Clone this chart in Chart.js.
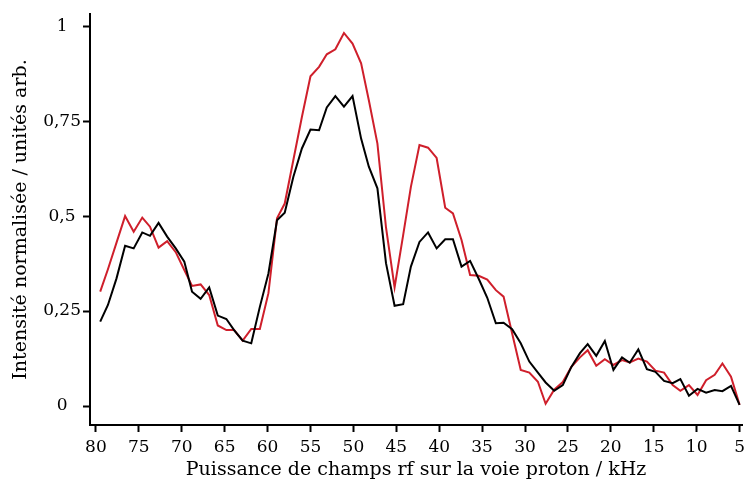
<!DOCTYPE html>
<html>
<head>
<meta charset="utf-8">
<script src="https://cdn.jsdelivr.net/npm/chart.js@4"></script>
<style>
html,body{margin:0;padding:0;background:#fff;}
#wrap{width:750px;height:486px;position:relative;}
</style>
</head>
<body>
<div id="wrap"><canvas id="c"></canvas></div>
<script>
// Fréquence (kHz) of each sample
const khz = [79.5, 78.6, 77.6, 76.6, 75.6, 74.6, 73.7, 72.7, 71.7, 70.7, 69.7, 68.8, 67.8, 66.8, 65.8, 64.8, 63.9, 62.9, 61.9, 60.9,
  59.9, 58.9, 58.0, 57.0, 56.0, 55.0, 54.0, 53.1, 52.1, 51.1, 50.1, 49.1, 48.2, 47.2, 46.2, 45.2, 44.2, 43.3, 42.3, 41.3,
  40.3, 39.3, 38.4, 37.4, 36.4, 35.4, 34.4, 33.4, 32.5, 31.5, 30.5, 29.5, 28.5, 27.6, 26.6, 25.6, 24.6, 23.6, 22.7, 21.7,
  20.7, 19.7, 18.7, 17.8, 16.8, 15.8, 14.8, 13.8, 12.8, 11.9, 10.9, 9.9, 8.9, 7.9, 7.0, 6.0, 5.0];

const blackSeries = [0.222, 0.266, 0.336, 0.422, 0.415, 0.457, 0.448, 0.482, 0.446, 0.415, 0.380, 0.301, 0.282, 0.312, 0.238, 0.229, 0.200, 0.172, 0.165, 0.261,
  0.349, 0.489, 0.509, 0.603, 0.678, 0.728, 0.726, 0.786, 0.816, 0.788, 0.816, 0.704, 0.630, 0.573, 0.376, 0.264, 0.268, 0.367, 0.432, 0.457,
  0.415, 0.439, 0.439, 0.367, 0.382, 0.335, 0.285, 0.218, 0.219, 0.202, 0.165, 0.117, 0.088, 0.062, 0.040, 0.055, 0.103, 0.139, 0.163, 0.132,
  0.171, 0.095, 0.128, 0.114, 0.149, 0.097, 0.090, 0.066, 0.060, 0.071, 0.027, 0.045, 0.035, 0.042, 0.039, 0.053, 0.003];

const redSeries = [0.301, 0.360, 0.430, 0.500, 0.459, 0.496, 0.472, 0.417, 0.434, 0.405, 0.358, 0.316, 0.320, 0.292, 0.212, 0.200, 0.200, 0.172, 0.203, 0.203,
  0.297, 0.494, 0.533, 0.647, 0.761, 0.868, 0.893, 0.926, 0.939, 0.982, 0.954, 0.902, 0.805, 0.691, 0.470, 0.312, 0.450, 0.577, 0.687, 0.680,
  0.653, 0.522, 0.507, 0.437, 0.345, 0.343, 0.333, 0.305, 0.288, 0.191, 0.095, 0.088, 0.064, 0.006, 0.043, 0.063, 0.103, 0.128, 0.147, 0.106,
  0.123, 0.108, 0.121, 0.115, 0.125, 0.117, 0.093, 0.088, 0.055, 0.040, 0.055, 0.029, 0.068, 0.082, 0.112, 0.077, 0.003];

const xTickValues = [80, 75, 70, 65, 60, 55, 50, 45, 40, 35, 30, 25, 20, 15, 10, 5];
const xTickLabels = ['80', '75', '70', '65', '60', '55', '50', '45', '40', '35', '30', '25', '20', '15', '10', '5'];
const yTickValues = [0, 0.25, 0.5, 0.75, 1];
const yTickLabels = ['0', '0,25', '0,5', '0,75', '1'];

const xTitle = 'Puissance de champs rf sur la voie proton / kHz';
const yTitle = 'Intensité normalisée / unités arb.';

const toPts = arr => arr.map((v, i) => ({x: khz[i], y: v}));

const FONT = "'DejaVu Serif', 'Liberation Serif', serif";

new Chart(document.getElementById('c'), {
  type: 'line',
  data: {
    datasets: [
      {label: 'noir', data: toPts(blackSeries), borderColor: '#000000', borderWidth: 2, pointRadius: 0, tension: 0, fill: false},
      {label: 'rouge', data: toPts(redSeries), borderColor: '#cf1f2b', borderWidth: 2, pointRadius: 0, tension: 0, fill: false}
    ]
  },
  options: {
    responsive: true,
    maintainAspectRatio: false,
    animation: false,
    devicePixelRatio: 1,
    layout: {padding: {top: 14, right: 2, bottom: 0, left: 0}},
    plugins: {legend: {display: false}, tooltip: {enabled: false}},
    scales: {
      x: {
        type: 'linear',
        reverse: true,
        min: 4.71,
        max: 80.69,
        afterFit: s => { s.height = 61; },
        afterBuildTicks: s => { s.ticks = xTickValues.map(v => ({value: v})); },
        ticks: {
          autoSkip: false,
          maxRotation: 0,
          color: '#000',
          padding: 5,
          font: {family: FONT, size: 17},
          callback: (v) => xTickLabels[xTickValues.indexOf(v)]
        },
        grid: {drawOnChartArea: false, drawTicks: true, tickLength: 7, tickWidth: 2, tickColor: '#000'},
        border: {display: true, color: '#000', width: 2},
        title: {display: true, text: xTitle, color: '#000', font: {family: FONT, size: 19}, padding: {top: 0, bottom: 5}}
      },
      y: {
        type: 'linear',
        min: -0.05,
        max: 1.032,
        afterFit: s => { s.width = 90; },
        afterBuildTicks: s => { s.ticks = yTickValues.map(v => ({value: v})); },
        ticks: {
          color: '#000',
          padding: 2,
          crossAlign: 'center',
          font: {family: FONT, size: 17},
          callback: (v) => yTickLabels[yTickValues.indexOf(v)]
        },
        grid: {drawOnChartArea: false, drawTicks: true, tickLength: 7, tickWidth: 2, tickColor: '#000'},
        border: {display: true, color: '#000', width: 2},
        title: {display: true, text: yTitle, color: '#000', font: {family: FONT, size: 19}, padding: {top: 10, bottom: 0}}
      }
    }
  }
});
</script>
</body>
</html>
